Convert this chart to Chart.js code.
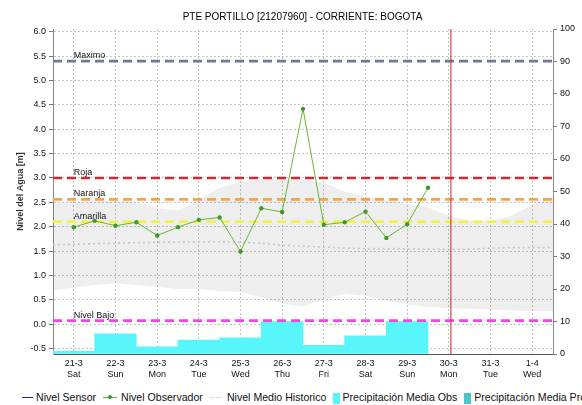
<!DOCTYPE html>
<html>
<head>
<meta charset="utf-8">
<script src="https://cdn.jsdelivr.net/npm/chart.js@4.4.0/dist/chart.umd.min.js"></script>
<style>
  html, body { margin: 0; padding: 0; background: #fff; overflow: hidden; }
  #wrap { position: relative; width: 582px; height: 405px; overflow: hidden; }
  #levelChart { position: absolute; left: 0; top: 0; }
  #legend {
    position: absolute; left: 22px; top: 390px; white-space: nowrap;
    font: 10.6px "Liberation Sans", Arial, sans-serif; color: #111;
  }
  #legend span.item { display: inline-block; margin-right: 7px; vertical-align: middle; }
  #legend i { display: inline-block; vertical-align: middle; position: relative; }
</style>
</head>
<body>
<div id="wrap">
  <canvas id="levelChart" width="605" height="386"></canvas>
  <div id="legend"></div>
</div>
<script>
// station days (x axis)
const dayLabels = ['21-3', '22-3', '23-3', '24-3', '25-3', '26-3', '27-3', '28-3', '29-3', '30-3', '31-3', '1-4'];
const weekDays = ['Sat', 'Sun', 'Mon', 'Tue', 'Wed', 'Thu', 'Fri', 'Sat', 'Sun', 'Mon', 'Tue', 'Wed'];

// observer readings, twice a day (day index)
const obsDays = [0, 0.5, 1, 1.5, 2, 2.5, 3, 3.5, 4, 4.5, 5, 5.5, 6, 6.5, 7, 7.5, 8, 8.5];
const obsLevel = [1.99, 2.12, 2.02, 2.09, 1.82, 1.99, 2.14, 2.19, 1.49, 2.38, 2.30, 4.42, 2.04, 2.09, 2.31, 1.77, 2.05, 2.80];

// historical level: mean and min/max envelope
const histDays = [-0.5, 0, 0.5, 1, 1.5, 2, 2.5, 3, 3.5, 4, 4.5, 5, 5.5, 6, 6.5, 7, 7.5, 8, 8.5, 9, 9.5, 10, 10.5, 11, 11.5];
const histMean = [1.63, 1.64, 1.65, 1.66, 1.67, 1.68, 1.68, 1.69, 1.69, 1.68, 1.66, 1.62, 1.60, 1.58, 1.56, 1.55, 1.55, 1.55, 1.54, 1.53, 1.54, 1.56, 1.57, 1.57, 1.57];
const histHigh = [2.48, 2.50, 2.52, 2.55, 2.50, 2.38, 2.33, 2.55, 2.80, 2.92, 2.97, 2.98, 2.97, 2.90, 2.72, 2.62, 2.55, 2.47, 2.40, 2.22, 2.12, 2.12, 2.22, 2.45, 2.62];
const histLow = [0.70, 0.74, 0.80, 0.84, 0.80, 0.76, 0.72, 0.72, 0.68, 0.66, 0.55, 0.42, 0.36, 0.50, 0.62, 0.58, 0.48, 0.40, 0.35, 0.33, 0.31, 0.30, 0.28, 0.27, 0.27];

// daily precipitation (right axis)
const precipDays = [0, 1, 2, 3, 4, 5, 6, 7, 8];
const precipObs = [0.8, 6.2, 2.2, 4.3, 5.0, 10, 2.7, 5.6, 10];

// alert thresholds [m]
const thresholdNames = ['Maximo', 'Roja', 'Naranja', 'Amarilla', 'Nivel Bajo'];
const thresholdValues = [5.4, 3.0, 2.56, 2.1, 0.07];
const thresholdColors = ['#6f7993', '#d9252b', '#f2a64a', '#f2f23c', '#f044f0'];

const nowDay = 9.05;
const levelTicks = [-0.5, 0, 0.5, 1, 1.5, 2, 2.5, 3, 3.5, 4, 4.5, 5, 5.5, 6];
const precipTicks = [0, 10, 20, 30, 40, 50, 60, 70, 80, 90, 100];

const X_MIN = -0.5, X_MAX = 11.5, Y_MIN = -0.615, Y_MAX = 6.06;
const FONT = '"Liberation Sans", Arial, sans-serif';
const xy = (xs, ys) => xs.map((x, i) => ({ x: x, y: ys[i] }));

const thresholdSets = thresholdNames.map((name, i) => ({
    type: 'line',
    label: name,
    data: [{ x: X_MIN, y: thresholdValues[i] }, { x: X_MAX, y: thresholdValues[i] }],
    borderColor: thresholdColors[i],
    borderWidth: 2.6,
    borderDash: [9, 5],
    pointRadius: 0,
    yAxisID: 'y',
    order: 3,
}));

// names of the thresholds written above each dashed line
const thresholdLabels = {
    id: 'thresholdLabels',
    afterDatasetsDraw(chart) {
        const ctx = chart.ctx;
        const xs = chart.scales.x, ys = chart.scales.y;
        ctx.save();
        ctx.font = '9px ' + FONT;
        ctx.fillStyle = '#111';
        ctx.textBaseline = 'alphabetic';
        thresholdNames.forEach((name, i) => {
            ctx.fillText(name, xs.getPixelForValue(0), ys.getPixelForValue(thresholdValues[i]) - 3);
        });
        ctx.restore();
    }
};

new Chart(document.getElementById('levelChart'), {
    type: 'line',
    data: {
        datasets: [
            {
                label: 'Nivel Sensor', data: [], borderColor: '#1b2a8c', borderWidth: 1.5,
                pointRadius: 0, yAxisID: 'y', order: 0,
            },
            {
                label: 'Nivel Observador', data: xy(obsDays, obsLevel),
                borderColor: '#66b832', backgroundColor: '#3f9a2a', borderWidth: 1,
                pointRadius: 2.2, pointBorderWidth: 0, tension: 0, yAxisID: 'y', order: 0,
            },
            {
                label: 'Nivel Medio Historico', data: xy(histDays, histMean),
                borderColor: '#c4c4c4', borderWidth: 1.6, borderDash: [2, 3],
                pointRadius: 0, yAxisID: 'y', order: 6,
            },
            {
                label: 'Maximo Historico', data: xy(histDays, histHigh),
                borderWidth: 0, pointRadius: 0, fill: '+1',
                backgroundColor: 'rgba(0,0,0,0.065)', yAxisID: 'y', order: 7,
            },
            {
                label: 'Minimo Historico', data: xy(histDays, histLow),
                borderWidth: 0, pointRadius: 0, fill: false, yAxisID: 'y', order: 8,
            },
            {
                type: 'bar', label: 'Precipitación Media Obs', data: xy(precipDays, precipObs),
                backgroundColor: '#58f6fb', borderWidth: 0, barPercentage: 1, categoryPercentage: 1,
                grouped: false, yAxisID: 'y2', order: 5,
            },
            {
                type: 'bar', label: 'Precipitación Media Pro', data: [],
                backgroundColor: '#4cc4c8', grouped: false, yAxisID: 'y2', order: 5,
            },
            ...thresholdSets,
            {
                label: 'Hoy', data: [{ x: nowDay, y: Y_MIN }, { x: nowDay, y: Y_MAX }],
                borderColor: '#cc2020', borderWidth: 1, pointRadius: 0, yAxisID: 'y', order: 2,
            },
        ]
    },
    options: {
        responsive: false,
        devicePixelRatio: 1,
        animation: false,
        layout: { padding: 0 },
        plugins: {
            legend: { display: false },
            tooltip: { enabled: false },
            title: {
                display: true,
                text: 'PTE PORTILLO [21207960] - CORRIENTE: BOGOTA',
                color: '#000',
                font: { family: FONT, size: 10, weight: 'normal' },
                padding: { top: 11, bottom: 6 },
            },
        },
        scales: {
            x: {
                type: 'linear', min: X_MIN, max: X_MAX, offset: false,
                afterBuildTicks: s => { s.ticks = dayLabels.map((_, i) => ({ value: i })); },
                afterFit: s => { s.height = 32; },
                ticks: {
                    autoSkip: false, maxRotation: 0, padding: 4, color: '#111',
                    font: { family: FONT, size: 9 },
                    callback: v => [dayLabels[v], weekDays[v]],
                },
                grid: { color: '#c4c4c4', drawTicks: false, offset: false },
                border: { color: '#555', dash: [2, 2] },
            },
            y: {
                position: 'left', min: Y_MIN, max: Y_MAX,
                afterBuildTicks: s => { s.ticks = levelTicks.map(v => ({ value: v })); },
                afterFit: s => { s.width = 53; },
                ticks: {
                    padding: 3, color: '#111', font: { family: FONT, size: 9 },
                    callback: v => v.toFixed(1),
                },
                grid: { color: '#c4c4c4', tickLength: 4, tickColor: '#777' },
                border: { color: '#8a8a8a', dash: [2, 2] },
                title: {
                    display: true, text: 'Nivel del Agua [m]', color: '#333',
                    font: { family: FONT, size: 9, weight: 'bold' },
                    padding: { top: 15, bottom: 0 },
                },
            },
            y2: {
                position: 'right', min: 0, max: 100,
                afterBuildTicks: s => { s.ticks = precipTicks.map(v => ({ value: v })); },
                afterFit: s => { s.width = 52; },
                ticks: { padding: 3, color: '#111', font: { family: FONT, size: 9 } },
                grid: { drawOnChartArea: false, tickLength: 4, tickColor: '#777' },
                border: { color: '#8a8a8a' },
                title: {
                    display: true, text: 'Precipitación [mm]', color: '#333',
                    font: { family: FONT, size: 9, weight: 'bold' },
                    padding: { top: 13, bottom: 0 },
                },
            },
        },
    },
    plugins: [thresholdLabels],
});

// legend row under the chart
const legendItems = [
    { name: 'Nivel Sensor', swatch: '<i style="width:11px;margin-right:3px;border-top:1.5px solid #1b2a8c;top:-1px"></i>' },
    { name: 'Nivel Observador', swatch: '<i style="width:14px;margin-right:4px;border-top:1px solid #66b832;top:-1px"><b style="position:absolute;left:5px;top:-3px;width:4px;height:4px;border-radius:2px;background:#3f9a2a"></b></i>' },
    { name: 'Nivel Medio Historico', swatch: '<i style="width:11px;margin-right:6px;border-top:1.5px dotted #c8c8c8;top:-1px"></i>' },
    { name: 'Precipitación Media Obs', swatch: '<i style="width:7px;height:11px;margin-right:2px;background:#58f6fb"></i>' },
    { name: 'Precipitación Media Pronosticada', swatch: '<i style="width:7px;height:11px;margin-right:3px;background:#4cc4c8"></i>' },
];
document.getElementById('legend').innerHTML = legendItems
    .map(it => '<span class="item">' + it.swatch + it.name + '</span>')
    .join('');
</script>
</body>
</html>
